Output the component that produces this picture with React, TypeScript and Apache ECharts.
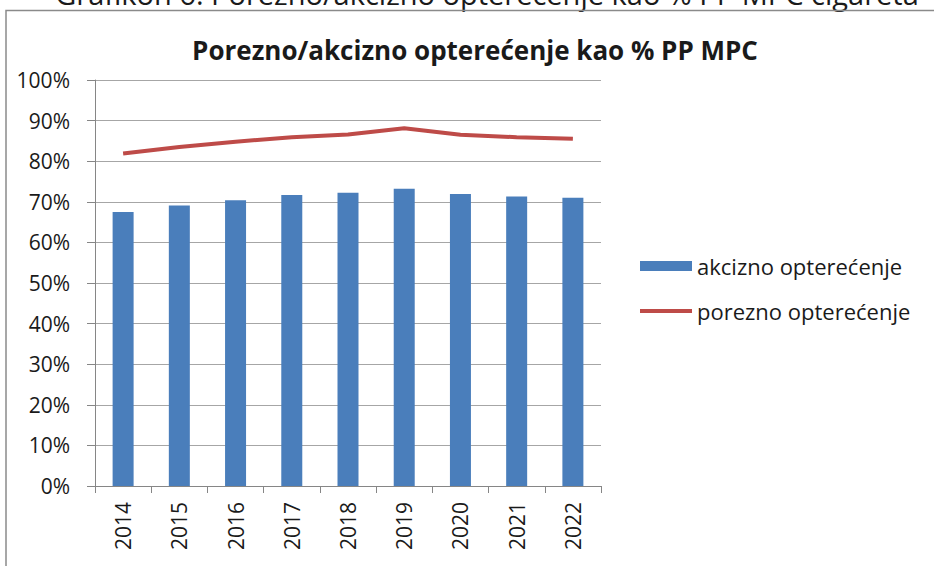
import React, { useEffect, useRef } from "react";
import * as echarts from "echarts";

const years = ["2014", "2015", "2016", "2017", "2018", "2019", "2020", "2021", "2022"];
const akciznoOpterecenje = [67.5, 69.1, 70.4, 71.7, 72.2, 73.2, 71.9, 71.3, 71.0];
const poreznoOpterecenje = [81.9, 83.5, 84.8, 85.9, 86.6, 88.1, 86.5, 85.9, 85.5];
const yTicks = [0, 10, 20, 30, 40, 50, 60, 70, 80, 90, 100];

const FONT = "'Open Sans', 'Noto Sans', sans-serif";

export default function App() {
  const ref = useRef<HTMLDivElement>(null);
  useEffect(() => {
    document.body.style.margin = "0";
    const chart = echarts.init(ref.current!, null, { renderer: "svg" });
    chart.setOption({
      animation: false,
      backgroundColor: "#ffffff",
      textStyle: { fontFamily: FONT },
      title: {
        text: "Porezno/akcizno opterećenje kao % PP MPC",
        left: 470,
        textAlign: "center",
        top: 32,
        textStyle: { fontFamily: FONT, fontSize: 26, fontWeight: "bold", color: "#1a1a1a" },
      },
      graphic: [
        {
          type: "text",
          x: 487,
          y: 8,
          style: {
            text: "Grafikon 6: Porezno/akcizno opterećenje kao % PP MPC cigareta",
            font: `29px ${FONT}`,
            fill: "#1a1a1a",
            align: "center",
            verticalAlign: "bottom",
          },
        },
        {
          type: "polyline",
          shape: { points: [[6, 570], [6, 10.5], [940, 10.5]] },
          style: { stroke: "#8a8a8a", lineWidth: 1.5, fill: "none" },
        },
      ],
      legend: {
        orient: "vertical",
        left: 640,
        top: 255,
        padding: 0,
        itemWidth: 52,
        itemHeight: 10,
        itemGap: 23,
        textStyle: { fontFamily: FONT, fontSize: 22, color: "#1a1a1a", padding: [0, 0, 0, 0] },
        data: [
          { name: "akcizno opterećenje", icon: "rect" },
          {
            name: "porezno opterećenje",
            icon: "path://M0,0H52V4H0Z",
            lineStyle: { width: 4, color: "#be4b48" },
          },
        ],
      },
      grid: { left: 95, right: 333, top: 80, bottom: 80, containLabel: false },
      xAxis: {
        type: "category",
        data: years,
        axisLine: { lineStyle: { color: "#868686", width: 1 } },
        axisTick: { show: true, length: 7, lineStyle: { color: "#868686" } },
        axisLabel: {
          rotate: 90,
          margin: 16,
          fontFamily: FONT,
          fontSize: 21,
          color: "#1a1a1a",
        },
      },
      yAxis: {
        type: "value",
        min: 0,
        max: 100,
        interval: 10,
        axisLine: { show: true, lineStyle: { color: "#868686", width: 1 } },
        axisTick: { show: true, length: 8, lineStyle: { color: "#868686" } },
        splitLine: { lineStyle: { color: "#a6a6a6", width: 1.2 } },
        axisLabel: {
          margin: 25,
          fontFamily: FONT,
          fontSize: 21,
          color: "#1a1a1a",
          formatter: (v: number) => (yTicks.includes(v) ? `${v}%` : ""),
        },
      },
      series: [
        {
          name: "akcizno opterećenje",
          type: "bar",
          data: akciznoOpterecenje,
          barWidth: 21,
          itemStyle: { color: "#4a7ebb" },
        },
        {
          name: "porezno opterećenje",
          type: "line",
          data: poreznoOpterecenje,
          symbol: "none",
          lineStyle: { color: "#be4b48", width: 4 },
          itemStyle: { color: "#be4b48" },
        },
      ],
    });
    return () => chart.dispose();
  }, []);
  return <div ref={ref} style={{ width: 934, height: 566 }} />;
}
